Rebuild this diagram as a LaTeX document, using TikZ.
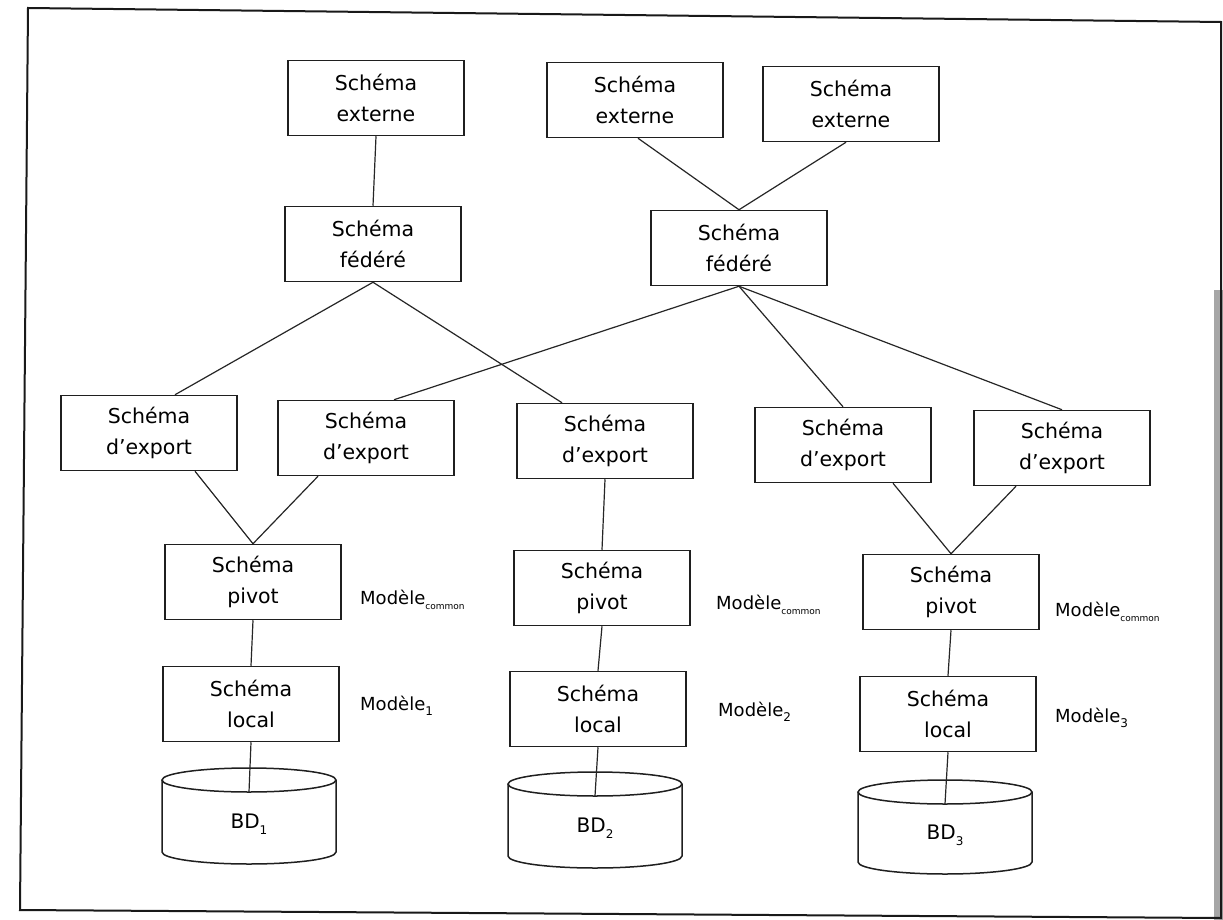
\documentclass[tikz,border=0pt]{standalone}
\usepackage{fontspec}
\setmainfont{DejaVu Sans}
\usetikzlibrary{calc}

% small lowered index, as in Modèle_common
\newcommand\lowidx[2]{\raisebox{-0.28em}{\fontsize{#1}{#1}\selectfont #2}}

% database drum: name, centre x, top-ellipse y, bottom-ellipse y, label
\newcommand\drumdb[5]{%
  \draw[drum] ({#2-87},#3) -- ({#2-87},#4)
     arc[start angle=180,end angle=360,x radius=87pt,y radius=12pt] -- ({#2+87},#3);
  \draw[drum] (#2,#3) ellipse[x radius=87pt,y radius=12pt];
  \coordinate (#1f) at (#2,{#3+12});
  \node[dblabel] (#1) at (#2,{(#3+#4)/2+8}) {#5};
}

\begin{document}
\begin{tikzpicture}[x=1pt,y=-1pt,
  schema/.style={draw=black!88, line width=1.5pt, minimum width=176pt,
    minimum height=75pt, align=center, inner sep=0pt,
    font=\fontsize{20.5}{31}\selectfont},
  link/.style={draw=black!85, line width=1.2pt},
  drum/.style={draw=black!88, line width=1.5pt},
  modlabel/.style={anchor=west, inner sep=0pt, font=\fontsize{18}{20}\selectfont},
  dblabel/.style={inner sep=0pt, font=\fontsize{20}{22}\selectfont}]
\useasboundingbox (0,0) rectangle (1223,920);
\fill[white] (0,0) rectangle (1223,920);

% page frame and shaded page edge
\fill[black!35] (1214,290) rectangle (1223,920);
\draw[black!90, line width=2pt] (28,8) -- (1221,22) -- (1221,918) -- (20,910) -- cycle;

% external schemas
\node[schema] (se1) at (376,98)  {Schéma\\externe};
\node[schema] (se2) at (635,100) {Schéma\\externe};
\node[schema] (se3) at (851,104) {Schéma\\externe};

% federated schemas
\node[schema] (sf1) at (373,244) {Schéma\\fédéré};
\node[schema] (sf2) at (739,248) {Schéma\\fédéré};

% export schemas
\node[schema] (ex1) at (149,433)  {Schéma\\d’export};
\node[schema] (ex2) at (366,438)  {Schéma\\d’export};
\node[schema] (ex3) at (605,441)  {Schéma\\d’export};
\node[schema] (ex4) at (843,445)  {Schéma\\d’export};
\node[schema] (ex5) at (1062,448) {Schéma\\d’export};

% pivot schemas
\node[schema] (pv1) at (253,582) {Schéma\\pivot};
\node[schema] (pv2) at (602,588) {Schéma\\pivot};
\node[schema] (pv3) at (951,592) {Schéma\\pivot};

% local schemas
\node[schema] (lo1) at (251,704) {Schéma\\local};
\node[schema] (lo2) at (598,709) {Schéma\\local};
\node[schema] (lo3) at (948,714) {Schéma\\local};

% databases
\drumdb{db1}{249}{780}{852}{BD\lowidx{12}{1}}
\drumdb{db2}{595}{784}{856}{BD\lowidx{12}{2}}
\drumdb{db3}{945}{792}{862}{BD\lowidx{12}{3}}

% model labels
\node[modlabel] (mc1) at (360,600) {Modèle\lowidx{9}{common}};
\node[modlabel] (mc2) at (716,605) {Modèle\lowidx{9}{common}};
\node[modlabel] (mc3) at (1055,612) {Modèle\lowidx{9}{common}};
\node[modlabel] (ml1) at (360,706) {Modèle\lowidx{12}{1}};
\node[modlabel] (ml2) at (718,712) {Modèle\lowidx{12}{2}};
\node[modlabel] (ml3) at (1055,718) {Modèle\lowidx{12}{3}};

% connectors
\draw[link] (se1.south) -- (sf1.north);
\draw[link] ([xshift=3pt]se2.south) -- (sf2.north);
\draw[link] ([xshift=-5pt]se3.south) -- (sf2.north);
\draw[link] (sf1.south) -- ([xshift=26pt]ex1.north);
\draw[link] (sf1.south) -- ([xshift=-43pt]ex3.north);
\draw[link] (sf2.south) -- ([xshift=28pt]ex2.north);
\draw[link] (sf2.south) -- (ex4.north);
\draw[link] (sf2.south) -- (ex5.north);
\draw[link] ([xshift=46pt]ex1.south) -- (pv1.north);
\draw[link] ([xshift=-48pt]ex2.south) -- (pv1.north);
\draw[link] (ex3.south) -- (pv2.north);
\draw[link] ([xshift=50pt]ex4.south) -- (pv3.north);
\draw[link] ([xshift=-46pt]ex5.south) -- (pv3.north);
\draw[link] (pv1.south) -- (lo1.north);
\draw[link] (pv2.south) -- (lo2.north);
\draw[link] (pv3.south) -- (lo3.north);
\draw[link] (lo1.south) -- (db1f);
\draw[link] (lo2.south) -- (db2f);
\draw[link] (lo3.south) -- (db3f);
\end{tikzpicture}
\end{document}
